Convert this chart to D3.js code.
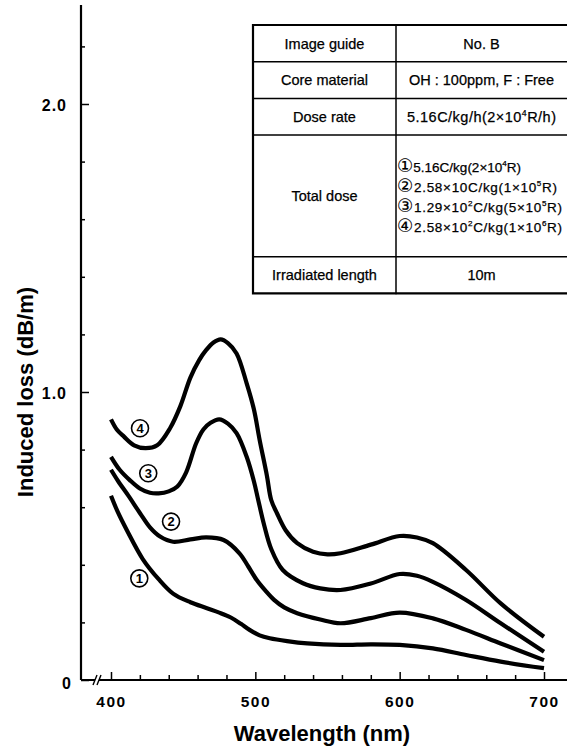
<!DOCTYPE html>
<html>
<head>
<meta charset="utf-8">
<script src="https://cdn.jsdelivr.net/npm/d3@7"></script>
<style>
body { margin: 0; background: #fff; }
text { font-family: "Liberation Sans", Arial, "DejaVu Sans", sans-serif; fill: #000; }
</style>
</head>
<body>
<div id="chart"></div>
<script>
// induced loss (dB/m), as [wavelength nm, loss]
const dose1 = [[400,0.64],[405,0.58],[411,0.52],[422,0.42],[433,0.35],[443,0.30],[455,0.27],[466,0.25],[475,0.234],[483,0.217],[490,0.195],[496,0.174],[503,0.155],[510,0.145],[522,0.135],[536,0.127],[559,0.122],[580,0.124],[600,0.122],[623,0.11],[646,0.087],[670,0.064],[700,0.041]]
const dose2 = [[400,0.73],[405,0.69],[412,0.64],[420,0.58],[427,0.53],[434,0.498],[443,0.48],[455,0.488],[466,0.495],[478,0.486],[489,0.44],[495,0.395],[501,0.347],[507,0.31],[513,0.278],[520,0.252],[529,0.232],[545,0.21],[559,0.197],[580,0.215],[600,0.234],[623,0.214],[646,0.174],[670,0.127],[700,0.069]]
const dose3 = [[400,0.775],[406,0.73],[413,0.694],[420,0.665],[427,0.65],[433,0.648],[440,0.655],[446,0.672],[452,0.72],[459,0.822],[464,0.87],[469,0.893],[475,0.905],[481,0.89],[487,0.857],[494,0.775],[499,0.69],[502,0.625],[506,0.54],[511,0.455],[519,0.382],[533,0.336],[545,0.318],[559,0.3125],[580,0.335],[600,0.368],[612,0.362],[623,0.341],[646,0.278],[670,0.197],[700,0.098]]
const dose4 = [[400,0.905],[404,0.87],[409,0.845],[416,0.815],[424,0.805],[432,0.815],[441,0.875],[448,0.95],[455,1.05],[461,1.11],[466,1.146],[471,1.172],[476,1.183],[481,1.17],[487,1.134],[494,1.03],[499,0.94],[503,0.833],[508,0.71],[511,0.625],[515,0.579],[521,0.52],[529,0.475],[540,0.445],[550,0.436],[559,0.44],[580,0.47],[600,0.5],[612,0.495],[623,0.475],[646,0.382],[670,0.266],[700,0.15]]

const curves = [dose1, dose2, dose3, dose4]
const curveNumbers = ["1", "2", "3", "4"]
// where the circled numbers sit, [wavelength nm, loss]
const markSpots = [[419.6, 0.353], [441.6, 0.55], [425.8, 0.718], [420.1, 0.874]]

const xTicks = d3.range(400, 701, 20)
const xLabels = [400, 500, 600, 700]
const yTicks = d3.range(0, 2.21, 0.2).map(v => +v.toFixed(1))
const yLabels = {0: "0", 1: "1.0", 2: "2.0"}

// table text, ^c marks a superscript character
const tableNames = ["Image guide", "Core material", "Dose rate", "Total dose", "Irradiated length"]
const tableValues = ["No. B", "OH : 100ppm, F : Free", "5.16C/kg/h(2×10^4R/h)", null, "10m"]
const totalDose = ["①5.16C/kg(2×10^4R)", "②2.58×10C/kg(1×10^5R)", "③1.29×10^2C/kg(5×10^5R)", "④2.58×10^2C/kg(1×10^6R)"]

const width = 567, height = 750

const svg = d3.select("#chart").append("svg")
    .attr("width", width)
    .attr("height", height)
    .attr("viewBox", [0, 0, width, height])

const x = d3.scaleLinear().domain([400, 700]).range([111, 544])
const y = d3.scaleLinear().domain([0, 2]).range([680, 104])
const axisLeftX = 81

// x axis
const gx = svg.append("g")
    .attr("transform", `translate(0,${y(0)})`)
    .call(d3.axisBottom(x).tickValues(xTicks).tickSize(-5).tickPadding(16)
        .tickFormat(d => xLabels.includes(d) ? d : ""))
gx.select(".domain").remove()
gx.selectAll(".tick line").attr("stroke-width", 1.5)
    .attr("y2", d => d % 100 === 0 ? -8 : -5)
gx.selectAll(".tick text").attr("font-size", 15.5).attr("font-weight", "bold")
    .attr("letter-spacing", 1.5)

// axis line with the break marks
svg.append("path")
    .attr("d", `M${axisLeftX},${y(0)}H95M99,${y(0)}H${width}`)
    .attr("stroke", "#000").attr("stroke-width", 2.2).attr("fill", "none")
svg.append("path")
    .attr("d", `M93,${y(0) + 5}L97,${y(0) - 5}M97,${y(0) + 5}L101,${y(0) - 5}`)
    .attr("stroke", "#000").attr("stroke-width", 1.4).attr("fill", "none")

// y axis
const gy = svg.append("g")
    .attr("transform", `translate(${axisLeftX},0)`)
    .call(d3.axisLeft(y).tickValues(yTicks).tickSize(-4).tickPadding(14)
        .tickFormat(d => yLabels[d] || ""))
gy.select(".domain").remove()
gy.selectAll(".tick line").attr("stroke-width", 1.5)
    .attr("x2", d => Number.isInteger(d) ? 8 : 4)
gy.selectAll(".tick text").attr("font-size", 16).attr("font-weight", "bold")
    .attr("letter-spacing", 1)
    .attr("dx", d => d === 0 ? 5 : 0)
    .attr("dy", d => d === 0 ? "0.5em" : "0.4em")
svg.append("line")
    .attr("x1", axisLeftX).attr("x2", axisLeftX)
    .attr("y1", y(0)).attr("y2", 5)
    .attr("stroke", "#000").attr("stroke-width", 2.2)

// axis titles
svg.append("text")
    .attr("x", 322).attr("y", 741)
    .attr("text-anchor", "middle")
    .attr("font-size", 22).attr("font-weight", "bold")
    .text("Wavelength (nm)")
svg.append("text")
    .attr("transform", "translate(33,392) rotate(-90)")
    .attr("text-anchor", "middle")
    .attr("font-size", 22).attr("font-weight", "bold")
    .text("Induced loss (dB/m)")

// curves
const line = d3.line()
    .x(d => x(d[0]))
    .y(d => y(d[1]))
    .curve(d3.curveCatmullRom.alpha(0.5))

svg.append("g").selectAll("path")
    .data(curves)
    .join("path")
    .attr("d", line)
    .attr("fill", "none")
    .attr("stroke", "#000")
    .attr("stroke-width", 4.2)

// circled curve numbers
const marks = svg.append("g").selectAll("g")
    .data(curveNumbers)
    .join("g")
    .attr("transform", (d, i) => `translate(${x(markSpots[i][0])},${y(markSpots[i][1])})`)
marks.append("circle")
    .attr("r", 8.5)
    .attr("fill", "#fff").attr("stroke", "#000").attr("stroke-width", 1.6)
marks.append("text")
    .attr("text-anchor", "middle").attr("dy", "0.36em")
    .attr("font-size", 13).attr("font-weight", "bold")
    .text(d => d)

// table
const tLeft = 253, tMid = 396, tRight = width, tTop = 25
const rowH = [36.7, 36.7, 36.7, 121.7, 36.6]
const rowY = [tTop]
rowH.forEach(h => rowY.push(rowY[rowY.length - 1] + h))

function richText(sel, str, size) {
    const parts = str.split(/(\^.|[①-⑳])/)
    let shifted = false
    parts.forEach(p => {
        if (p === "") return
        const t = sel.append("tspan")
        if (p[0] === "^") {
            t.attr("font-size", size * 0.6).attr("dy", -size * 0.38).text(p[1])
            shifted = true
            return
        }
        if (shifted) { t.attr("dy", size * 0.38); shifted = false }
        if (/[①-⑳]/.test(p)) t.attr("font-family", "DejaVu Sans").attr("font-size", size * 1.35)
            .attr("stroke-width", 0.1)
        t.text(p)
    })
}

const tbl = svg.append("g").attr("stroke-linecap", "square")
rowY.slice(1, -1).forEach(yy => {
    tbl.append("line").attr("x1", tLeft).attr("x2", tRight).attr("y1", yy).attr("y2", yy)
        .attr("stroke", "#000").attr("stroke-width", 1.5)
})
tbl.append("path")
    .attr("d", `M${tRight},${tTop}H${tLeft}V${rowY[rowY.length - 1]}H${tRight}`)
    .attr("stroke", "#000").attr("stroke-width", 2.2).attr("fill", "none")
tbl.append("line").attr("x1", tMid).attr("x2", tMid).attr("y1", tTop).attr("y2", rowY[rowY.length - 1])
    .attr("stroke", "#000").attr("stroke-width", 1.5)

const cellText = g => g.attr("stroke", "#000").attr("stroke-width", 0.25)

tableNames.forEach((name, i) => {
    const cy = (rowY[i] + rowY[i + 1]) / 2
    tbl.append("text")
        .attr("x", (tLeft + tMid) / 2).attr("y", cy).attr("dy", "0.36em")
        .attr("text-anchor", "middle").attr("font-size", 14.5)
        .call(cellText)
        .text(name)
    const v = tableValues[i]
    if (v) {
        const t = tbl.append("text")
            .attr("x", (tMid + tRight) / 2).attr("y", cy).attr("dy", "0.36em")
            .attr("text-anchor", "middle").attr("font-size", 14.5)
            .call(cellText)
        richText(t, v, 14.5)
        if (i === 1) t.attr("textLength", 145).attr("lengthAdjust", "spacing")
        if (i === 2) t.attr("textLength", 149).attr("lengthAdjust", "spacing")
    }
})

// widths of the four dose lines; the first one is left at its own width
const doseWidths = [null, 160, 165, 165]
totalDose.forEach((d, i) => {
    const t = tbl.append("text")
        .attr("x", tMid + 1).attr("y", 166.7 + i * 20).attr("dy", "0.36em")
        .attr("font-size", 13.5)
        .call(cellText)
    if (doseWidths[i]) t.attr("textLength", doseWidths[i]).attr("lengthAdjust", "spacing")
    richText(t, d, 13.5)
})
</script>
</body>
</html>
